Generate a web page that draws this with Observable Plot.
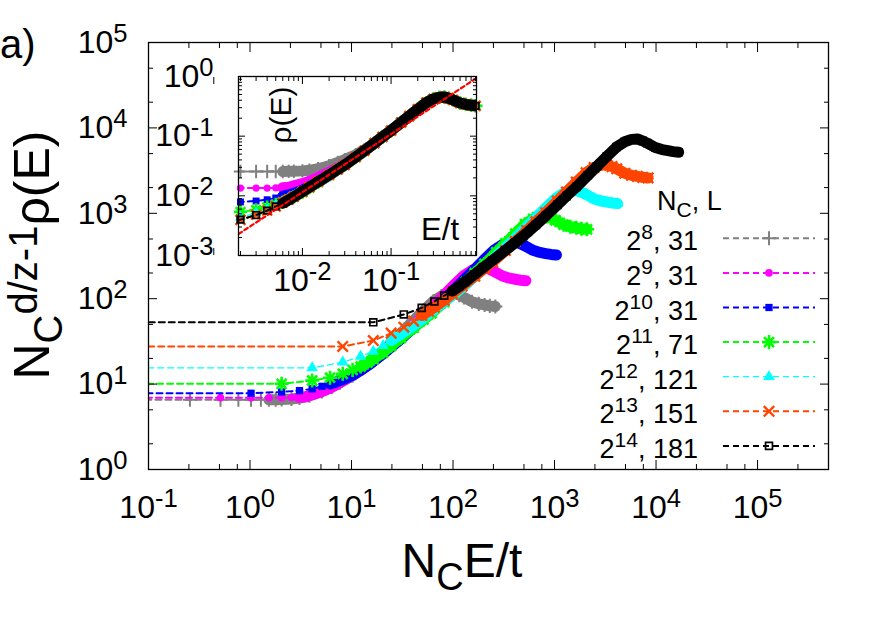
<!DOCTYPE html>
<html>
<head>
<meta charset="utf-8">
<script src="https://cdn.jsdelivr.net/npm/d3@7"></script>
<script src="https://cdn.jsdelivr.net/npm/@observablehq/plot@0.6"></script>
<style>
  html,body{margin:0;padding:0;background:#fff;}
  #chart{position:relative;width:890px;height:623px;overflow:hidden;background:#fff;font-family:"Liberation Sans",Arial,sans-serif;}
  #chart > svg{position:absolute;left:0;top:0;}
</style>
</head>
<body>
<div id="chart"></div>
<script>
// ---------------- data ----------------
const seriesNc    = [256, 512, 1024, 2048, 4096, 8192, 16384];
const seriesExp   = [8, 9, 10, 11, 12, 13, 14];
const seriesL     = [31, 31, 31, 71, 121, 151, 181];
const seriesColor = ["#808080", "#ff00ff", "#0000ff", "#00ff00", "#00ffff", "#ff4500", "#000000"];

// energy grid E/t (first value: start of the flat low-energy line)
const energy = [0.000001, 0.001, 0.002, 0.003, 0.004, 0.005, 0.006, 0.007, 0.008, 0.01, 0.012, 0.015, 0.02, 0.025, 0.03,
                0.04, 0.05, 0.065, 0.08, 0.1, 0.13, 0.16, 0.2, 0.25, 0.3, 0.35, 0.4, 0.45, 0.5, 0.6, 0.7, 0.8, 0.9, 1.02];

// density of states rho(E) for each system
const rho256   = [0.0256, 0.0256, 0.0256, 0.0256, 0.0256, 0.0256, 0.0256, 0.0257, 0.0258, 0.0262, 0.0268, 0.0285, 0.032, 0.0362, 0.0405,
                  0.049, 0.059, 0.0765, 0.097, 0.124, 0.17, 0.217, 0.283, 0.365, 0.42, 0.448, 0.452, 0.43, 0.405, 0.36, 0.34, 0.33, 0.322, 0.317];
const rho512   = [0.0135, 0.0135, 0.0135, 0.0135, 0.0135, 0.0136, 0.0137, 0.0139, 0.0147, 0.016, 0.0175, 0.0203, 0.025, 0.0292, 0.034,
                  0.0449, 0.057, 0.0765, 0.097, 0.124, 0.17, 0.217, 0.283, 0.365, 0.42, 0.448, 0.452, 0.43, 0.405, 0.36, 0.34, 0.33, 0.322, 0.317];
const rho1024  = [0.00763, 0.00763, 0.0079, 0.0082, 0.0086, 0.0092, 0.0098, 0.0104, 0.011, 0.0124, 0.0142, 0.0169, 0.022, 0.0276, 0.033,
                  0.0447, 0.057, 0.0765, 0.097, 0.124, 0.17, 0.217, 0.283, 0.365, 0.42, 0.448, 0.452, 0.43, 0.405, 0.36, 0.34, 0.33, 0.322, 0.317];
const rho2048  = [0.00492, 0.00492, 0.00538, 0.0058, 0.00644, 0.00717, 0.00785, 0.0087, 0.0096, 0.0115, 0.0137, 0.017, 0.0224, 0.0277, 0.033,
                  0.0447, 0.057, 0.0765, 0.097, 0.124, 0.17, 0.217, 0.283, 0.365, 0.42, 0.448, 0.452, 0.43, 0.405, 0.36, 0.34, 0.33, 0.322, 0.317];
const rho4096  = [0.00379, 0.00379, 0.0044, 0.00514, 0.00589, 0.0069, 0.0079, 0.0089, 0.0099, 0.0118, 0.014, 0.0172, 0.0224, 0.0277, 0.033,
                  0.0447, 0.057, 0.0765, 0.097, 0.124, 0.17, 0.217, 0.283, 0.365, 0.42, 0.448, 0.452, 0.43, 0.405, 0.36, 0.34, 0.33, 0.322, 0.317];
const rho8192  = [0.00337, 0.00337, 0.00395, 0.00482, 0.00566, 0.00666, 0.00776, 0.0087, 0.0097, 0.0117, 0.014, 0.0172, 0.0224, 0.0277, 0.033,
                  0.0447, 0.057, 0.0765, 0.097, 0.124, 0.17, 0.217, 0.283, 0.365, 0.42, 0.448, 0.452, 0.43, 0.405, 0.36, 0.34, 0.33, 0.322, 0.317];
const rho16384 = [0.00323, 0.00323, 0.00399, 0.00477, 0.00566, 0.00664, 0.0075, 0.0085, 0.0096, 0.0118, 0.014, 0.0172, 0.0224, 0.0277, 0.033,
                  0.0447, 0.057, 0.0765, 0.097, 0.124, 0.17, 0.217, 0.283, 0.365, 0.42, 0.448, 0.452, 0.43, 0.405, 0.36, 0.34, 0.33, 0.322, 0.317];

// red dashed power-law guide in the inset (end points)
const fitE   = [0.0019, 0.92];
const fitRho = [0.00229, 0.94];

// tick values
const mainXDecades  = [0.1, 1, 10, 100, 1e3, 1e4, 1e5];
const mainYDecades  = [1, 10, 100, 1e3, 1e4, 1e5];
const mainXMinorMul = [2.5, 5, 7.5];
const mainYMinorMul = [2, 5];
const insetXDecades = [0.001, 0.01, 0.1];
const insetXLabels  = [0.01, 0.1];
const insetYDecades = [0.001, 0.01, 0.1, 1];
const insetMinorMul = [2, 3, 4, 5, 6, 7, 8, 9];

// ---------------- build tables ----------------
const rhoBySeries = [rho256, rho512, rho1024, rho2048, rho4096, rho8192, rho16384];
const tables = seriesNc.map((N, i) => energy.map((E, j) => ({
  E, rho: rhoBySeries[i][j], X: N * E, Y: N * rhoBySeries[i][j]
})));

const W = 890, H = 623;
const FF = "'Liberation Sans', Arial, sans-serif";
const minor = (decs, muls) => decs.flatMap(d => muls.map(m => d * m));
const expFmt = d => "10^" + Math.round(Math.log10(d));
const blank = () => "";

function markers(data, i, xk, yk, s) {
  const c = seriesColor[i], o = {x: xk, y: yk};
  switch (i) {
    case 0: return [Plot.dot(data, {...o, symbol: "plus", stroke: c, strokeWidth: 2, r: 4.6 * s})];
    case 1: return [Plot.dot(data, {...o, symbol: "circle", fill: c, r: 3.8 * s})];
    case 2: return [Plot.dot(data, {...o, symbol: "square", fill: c, r: 4.1 * s})];
    case 3: return [Plot.dot(data, {...o, symbol: "plus", stroke: c, strokeWidth: 2.6, r: 4.6 * s}),
                    Plot.dot(data, {...o, symbol: "times", stroke: c, strokeWidth: 2.6, r: 4.6 * s})];
    case 4: return [Plot.dot(data, {...o, symbol: "triangle", fill: c, r: 4.3 * s})];
    case 5: return [Plot.dot(data, {...o, symbol: "times", stroke: c, strokeWidth: 2.4, r: 4.8 * s})];
    default: return [Plot.dot(data, {...o, symbol: "square", fill: "none", stroke: c, strokeWidth: 1.7, r: 3.9 * s})];
  }
}

function seriesMarks(xk, yk, xmin, xmax, band, s) {
  const out = [];
  tables.forEach((t, i) => {
    const c = seriesColor[i];
    out.push(Plot.line(t, {x: xk, y: yk, stroke: c, strokeWidth: i === 4 ? 1.3 : 2, strokeDasharray: "6,4", clip: true}));
    out.push(Plot.line(t.filter(d => d.E >= 0.006), {x: xk, y: yk, stroke: c, strokeWidth: band,
      strokeLinejoin: "round", strokeLinecap: "round", clip: true}));
    const pts = t.filter(d => d.E >= 0.001 && d[xk] >= xmin && d[xk] <= xmax);
    out.push(...markers(pts, i, xk, yk, s));
  });
  return out;
}

function tickAxes(xMaj, xMin, yMaj, yMin, majLen, minLen) {
  const m = [];
  for (const anchor of ["bottom", "top"]) {
    m.push(Plot.axisX({anchor, ticks: xMaj, tickSize: -majLen, tickFormat: blank, label: null, stroke: "#000"}));
    m.push(Plot.axisX({anchor, ticks: xMin, tickSize: -minLen, tickFormat: blank, label: null, stroke: "#000"}));
  }
  for (const anchor of ["left", "right"]) {
    m.push(Plot.axisY({anchor, ticks: yMaj, tickSize: -majLen, tickFormat: blank, label: null, stroke: "#000"}));
    m.push(Plot.axisY({anchor, ticks: yMin, tickSize: -minLen, tickFormat: blank, label: null, stroke: "#000"}));
  }
  return m;
}

// tick labels drawn as text marks positioned by the scales
function tickLabels(xTicks, yTicks, xPad, yPad, fs) {
  return [
    Plot.text(xTicks, {x: d => d, frameAnchor: "bottom", dy: xPad, lineAnchor: "top", textAnchor: "middle",
                       text: expFmt, fontSize: fs, fill: "#000"}),
    Plot.text(yTicks, {y: d => d, frameAnchor: "left", dx: -yPad, lineAnchor: "middle", textAnchor: "end",
                       text: expFmt, fontSize: fs, fill: "#000"})
  ];
}

// ---------------- main plot ----------------
const xMainMin = 0.1, xMainMax = 5e5;
const mainPlot = Plot.plot({
  width: W, height: H,
  marginLeft: 148, marginRight: 62, marginTop: 42, marginBottom: 154,
  x: {type: "log", domain: [xMainMin, xMainMax], label: null},
  y: {type: "log", domain: [1, 1e5], label: null},
  style: {background: "transparent", fontFamily: FF, color: "#000"},
  marks: [
    ...seriesMarks("X", "Y", xMainMin, xMainMax, 11, 1),
    ...tickAxes(mainXDecades, minor(mainXDecades, mainXMinorMul).filter(v => v < xMainMax),
                mainYDecades, minor(mainYDecades, mainYMinorMul).filter(v => v < 1e5), 9, 5),
    ...tickLabels(mainXDecades, mainYDecades, 26, 21, 32),
    Plot.frame({stroke: "#000", strokeWidth: 1.3})
  ]
});

// ---------------- inset ----------------
const xInMin = 0.0019, xInMax = 0.92;
const fitRows = fitE.map((e, k) => ({E: e, rho: fitRho[k]}));
const insetPlot = Plot.plot({
  width: W, height: H,
  marginLeft: 238, marginRight: W - 476, marginTop: 76, marginBottom: H - 255,
  x: {type: "log", domain: [xInMin, xInMax], label: null},
  y: {type: "log", domain: [0.001, 1], label: null},
  style: {background: "transparent", fontFamily: FF, color: "#000"},
  marks: [
    ...seriesMarks("E", "rho", xInMin, xInMax, 11, 0.95),
    Plot.line(fitRows, {x: "E", y: "rho", stroke: "#ff0000", strokeWidth: 2.2, strokeDasharray: "4,3", clip: true}),
    ...tickAxes(insetXDecades, minor(insetXDecades, insetMinorMul).filter(v => v > xInMin && v < xInMax),
                insetYDecades, minor(insetYDecades, insetMinorMul).filter(v => v < 1), 7, 4),
    ...tickLabels(insetXLabels, insetYDecades, 13, 25, 32),
    Plot.frame({stroke: "#000", strokeWidth: 1.3})
  ]
});

const chart = document.getElementById("chart");
chart.appendChild(mainPlot);
chart.appendChild(insetPlot);

// turn "10^k" tick labels into base + superscript
function supify(svg) {
  d3.select(svg).selectAll("text").each(function () {
    const t = this.textContent;
    const m = /^(\d+)\^(-?\d+)$/.exec(t);
    if (!m) return;
    const sel = d3.select(this);
    sel.text(null);
    sel.append("tspan").text(m[1]);
    sel.append("tspan").attr("dy", "-0.42em").attr("font-size", "80%").text(m[2]);
  });
}
supify(mainPlot);
supify(insetPlot);

// ---------------- annotations (text) ----------------
const svgMain = d3.select(mainPlot);

svgMain.append("text").attr("x", 0).attr("y", 58).attr("text-anchor", "start")
  .attr("font-size", 40).attr("font-family", FF).text("a)");

// y axis title
const yt = svgMain.append("text").attr("font-family", FF).attr("font-size", 50).attr("text-anchor", "middle")
  .attr("transform", "translate(49,255) rotate(-90)");
yt.append("tspan").text("N");
yt.append("tspan").attr("font-size", 40).attr("dy", 13).text("C");
yt.append("tspan").attr("font-size", 40).attr("dy", -25).text("d/z-1");
yt.append("tspan").attr("dy", 12).text("ρ(E)");

// x axis title
const xt = svgMain.append("text").attr("font-family", FF).attr("font-size", 48).attr("text-anchor", "middle")
  .attr("x", 462).attr("y", 577);
xt.append("tspan").text("N");
xt.append("tspan").attr("font-size", 38).attr("dy", 13).text("C");
xt.append("tspan").attr("dy", -13).text("E/t");

// legend
const lg = svgMain.append("g").attr("font-family", FF);
const lt = lg.append("text").attr("x", 657).attr("y", 210).attr("text-anchor", "start").attr("font-size", 27);
lt.append("tspan").text("N");
lt.append("tspan").attr("font-size", 21).attr("dy", 7).text("C");
lt.append("tspan").attr("dy", -7).text(", L");

const symR = [4.6, 3.8, 4.1, 4.6, 4.3, 4.8, 3.9];
seriesNc.forEach((N, i) => {
  const y = 238.3 + i * 34.6;
  const c = seriesColor[i];
  const tx = lg.append("text").attr("x", 698).attr("y", y + 12).attr("text-anchor", "end").attr("font-size", 27);
  tx.append("tspan").text("2");
  tx.append("tspan").attr("font-size", 21).attr("dy", -11).text(seriesExp[i]);
  tx.append("tspan").attr("dy", 11).text(", " + seriesL[i]);
  lg.append("line").attr("x1", 723).attr("x2", 815).attr("y1", y).attr("y2", y)
    .attr("stroke", c).attr("stroke-width", i === 4 ? 1.3 : 2).attr("stroke-dasharray", "6,4");
  const size = Math.PI * symR[i] * symR[i];
  const addSym = (type, filled, sw) => {
    const p = lg.append("path").attr("d", d3.symbol(type, size)()).attr("transform", `translate(769,${y})`);
    if (filled) p.attr("fill", c); else p.attr("fill", "none").attr("stroke", c).attr("stroke-width", sw);
  };
  if (i === 0) addSym(d3.symbolPlus, false, 2);
  else if (i === 1) addSym(d3.symbolCircle, true, 0);
  else if (i === 2) addSym(d3.symbolSquare, true, 0);
  else if (i === 3) { addSym(d3.symbolPlus, false, 2.6); addSym(d3.symbolTimes, false, 2.6); }
  else if (i === 4) addSym(d3.symbolTriangle, true, 0);
  else if (i === 5) addSym(d3.symbolTimes, false, 2.4);
  else addSym(d3.symbolSquare, false, 1.7);
});

// inset titles
const svgIn = d3.select(insetPlot);
svgIn.append("text").attr("font-family", FF).attr("font-size", 30).attr("text-anchor", "middle")
  .attr("transform", "translate(291,115) rotate(-90)").text("ρ(E)");
svgIn.append("text").attr("font-family", FF).attr("font-size", 31).attr("text-anchor", "end")
  .attr("x", 459).attr("y", 240).text("E/t");
</script>
</body>
</html>
